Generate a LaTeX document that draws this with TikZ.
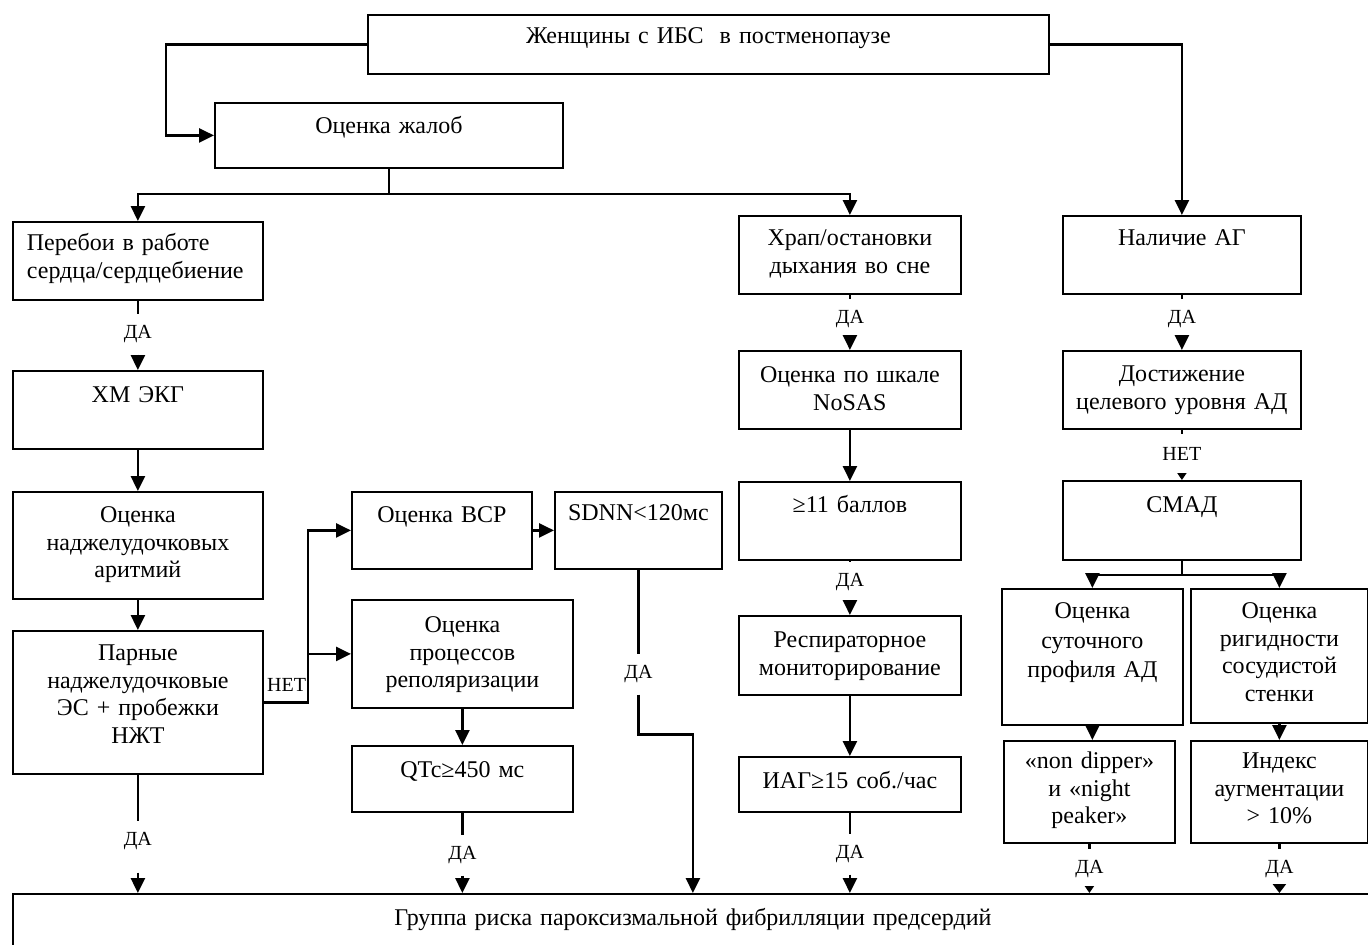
\documentclass[tikz,border=0pt]{standalone}
\usepackage{fontspec}
\setmainfont{Liberation Serif}
\usepackage{tikz}
\usetikzlibrary{arrows.meta,positioning}
\tikzset{
 tbox/.style={
 rectangle,
 draw=black,
 line width=0.9pt,
 align=center,
 anchor=north west,
 inner xsep=3pt,
 inner ysep=0pt,
 font=\fontsize{12}{13.75}\selectfont
 },
 tag/.style={
 inner sep=0pt,
 minimum height=20pt,
 font=\fontsize{10}{12}\selectfont
 },
 flowline/.style={line width=1.3pt, draw=black},
 flowarrow/.style={-{Triangle[length=7.5pt,width=7pt]}, line width=1.3pt, draw=black},
 tinyarrow/.style={-{Triangle[length=3.5pt,width=4.5pt]}, line width=1.3pt, draw=black},
 shortarrow/.style={-{Triangle[length=4.5pt,width=6.5pt]}, line width=1.3pt, draw=black}
}

\begin{document}
\begin{tikzpicture}[x=0.5pt,y=-0.5pt]
	\useasboundingbox (0,0) rectangle (1368,944);

	\node[tbox, text width=334.5pt, text height=14.5pt, text depth=15pt] (women) at (367,14) {Женщины с ИБС~ в постменопаузе};
	\node[tbox, text width=168pt, text height=15.5pt, text depth=17pt] (complaints) at (214,102) {Оценка жалоб};

	\node[tbox, align=left, inner xsep=7pt, text width=111pt, text height=14.5pt, text depth=24.5pt] (palp) at (12,221) {Перебои в работе\\сердца/сердцебиение};
	\node[tbox, text width=119pt, text height=16pt, text depth=23pt] (holter) at (12,370) {ХМ ЭКГ};
	\node[tbox, text width=119pt, text height=15.5pt, text depth=38pt] (svt) at (12,491) {Оценка\\наджелудочковых\\аритмий};
	\node[tbox, text width=119pt, text height=15pt, text depth=56.5pt] (pairs) at (12,630) {Парные\\наджелудочковые\\ЭС + пробежки\\НЖТ};

	\node[tbox, text width=84pt, text height=15.5pt, text depth=23pt] (hrv) at (351,491) {Оценка ВСР};
	\node[tbox, text width=77.5pt, text height=14.5pt, text depth=24pt] (sdnn) at (554,491) {SDNN<120мс};
	\node[tbox, text width=104.5pt, text height=16.5pt, text depth=37.5pt] (repol) at (351,599) {Оценка\\процессов\\реполяризации};
	\node[tbox, text width=104.5pt, text height=16pt, text depth=17pt] (qtc) at (351,745) {QTc≥450 мс};

	\node[tbox, text width=105pt, text height=15pt, text depth=24pt] (snore) at (738,215) {Храп/остановки\\дыхания во сне};
	\node[tbox, text width=105pt, text height=16pt, text depth=23pt] (nosas) at (738,350) {Оценка по шкале\\NoSAS};
	\node[tbox, text width=105pt, text height=15.5pt, text depth=23.5pt] (score) at (738,481) {≥11 баллов};
	\node[tbox, text width=105pt, text height=16pt, text depth=23.5pt] (resp) at (738,615) {Респираторное\\мониторирование};
	\node[tbox, text width=105pt, text height=16pt, text depth=11.5pt] (iag) at (738,756) {ИАГ≥15 соб./час};

	\node[tbox, text width=113pt, text height=15pt, text depth=24pt] (htn) at (1062,215) {Наличие АГ};
	\node[tbox, text width=113pt, text height=15.5pt, text depth=23.5pt] (target) at (1062,350) {Достижение\\целевого уровня АД};
	\node[tbox, text width=113pt, text height=16pt, text depth=23.5pt] (abpm) at (1062,480) {СМАД};
	\node[tbox, text width=84.5pt, text height=15pt, text depth=53pt] (circ) at (1001,588) {Оценка\\[0.8pt]суточного\\[0.8pt]профиля АД};
	\node[tbox, text width=82.5pt, text height=15pt, text depth=52pt] (stiff) at (1190,588) {Оценка\\ригидности\\сосудистой\\стенки};
	\node[tbox, text width=79.5pt, text height=14pt, text depth=37pt] (nondip) at (1003,740) {«non dipper»\\и «night\\peaker»};
	\node[tbox, text width=82.5pt, text height=14pt, text depth=37pt] (index) at (1190,740) {Индекс\\аугментации\\> 10\%};

	\node[tbox, text width=674pt, text height=16pt, text depth=17.5pt] (risk) at (12,893) {Группа риска пароксизмальной фибрилляции предсердий};

	\draw[flowarrow] (women.west) -- ++(-201,0) |- (complaints.west);
	\draw[flowarrow] (women.east) -| (htn.north);
	\draw[flowarrow] (complaints.south) -- ++(0,25) -| (palp.north);
	\draw[flowarrow] (complaints.south) -- ++(0,25) -| (snore.north);

	\node[tag, below=6.5pt of palp.south] (yes1) {ДА};
	\draw[flowline] (palp.south) -- (yes1.north);
	\draw[flowarrow] (yes1.south) -- (holter.north);
	\draw[flowarrow] (holter.south) -- (svt.north);
	\draw[flowarrow] (svt.south) -- (pairs.north);
	\node[tag, minimum height=0pt, above right=5.5pt and 1.5pt of pairs.east] (no1) {НЕТ};
	\draw[flowarrow] (pairs.east) -- ++(44,0) |- (hrv.west);
	\draw[flowarrow] (pairs.east) -- ++(44,0) |- (repol.west);
	\draw[flowarrow] (hrv.east) -- (sdnn.west);
	\draw[flowarrow] (repol.south) -- (qtc.north);

	\node[tag, below=42pt of sdnn.south] (yes3) {ДА};
	\draw[flowline] (sdnn.south) -- (yes3.north);
	\draw[flowarrow] (yes3.south) -- ++(0,40) -| (risk.north);

	\node[tag, below=23pt of pairs.south] (yes6) {ДА};
	\draw[flowline] (pairs.south) -- (yes6.north);
	\draw[flowarrow, shorten <=5.5pt] (yes6.south) -- (yes6.south |- risk.north);
	\node[tag, below=11pt of qtc.south] (yes7) {ДА};
	\draw[flowline] (qtc.south) -- (yes7.north);
	\draw[flowarrow] (yes7.south) -- (yes7.south |- risk.north);

	\node[tag, below=2pt of snore.south] (yes2) {ДА};
	\draw[flowline] (snore.south) -- (yes2.north);
	\draw[flowarrow] (yes2.south) -- (nosas.north);
	\draw[flowarrow] (nosas.south) -- (score.north);
	\node[tag, below=0.5pt of score.south] (yes4) {ДА};
	\draw[flowline] (score.south) -- (yes4.north);
	\draw[flowarrow] (yes4.south) -- (resp.north);
	\draw[flowarrow] (resp.south) -- (iag.north);
	\node[tag, below=10.5pt of iag.south] (yes8) {ДА};
	\draw[flowline] (iag.south) -- (yes8.north);
	\draw[flowarrow] (yes8.south) -- (yes8.south |- risk.north);

	\node[tag, below=2pt of htn.south] (yes5) {ДА};
	\draw[flowline] (htn.south) -- (yes5.north);
	\draw[flowarrow] (yes5.south) -- (target.north);
	\node[tag, below=2pt of target.south] (no2) {НЕТ};
	\draw[flowline] (target.south) -- (no2.north);
	\draw[tinyarrow] (no2.south) -- (abpm.north);
	\draw[flowarrow] (abpm.south) -- ++(0,14) -| (circ.north);
	\draw[flowarrow] (abpm.south) -- ++(0,14) -| (stiff.north);
	\draw[flowarrow] (circ.south) -- (circ.south |- nondip.north);
	\draw[flowarrow] (stiff.south) -- (index.north);

	\node[tag, below=2.5pt of nondip.south] (yes9) {ДА};
	\draw[flowline] (nondip.south) -- (yes9.north);
	\draw[tinyarrow] (yes9.south) -- (yes9.south |- risk.north);
	\node[tag, below=2.5pt of index.south] (yes10) {ДА};
	\draw[flowline] (index.south) -- (yes10.north);
	\draw[shortarrow] (yes10.south) -- (yes10.south |- risk.north);
\end{tikzpicture}
\end{document}
